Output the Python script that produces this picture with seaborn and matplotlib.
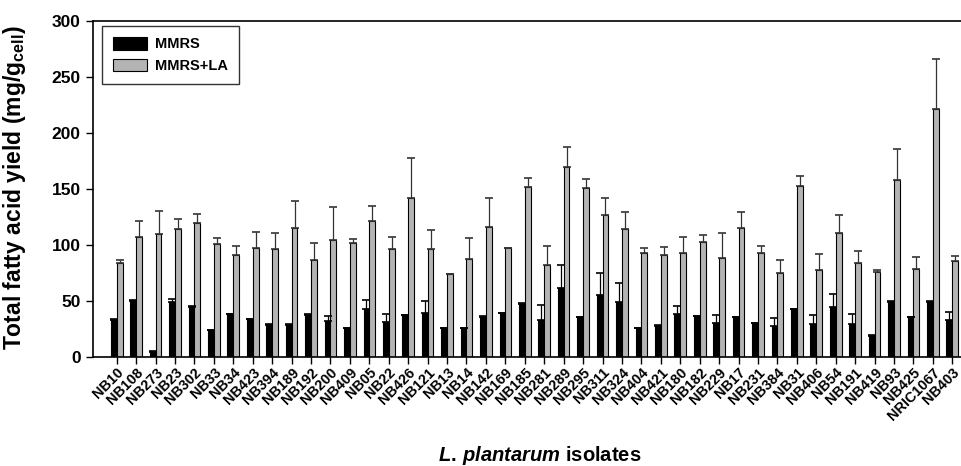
import numpy as np
import pandas as pd
import matplotlib
matplotlib.use("Agg")
import matplotlib.pyplot as plt
import seaborn as sns

isolates = ["NB10", "NB108", "NB273", "NB23", "NB302", "NB33", "NB34", "NB423", "NB394",
            "NB189", "NB192", "NB200", "NB409", "NB05", "NB22", "NB426", "NB121", "NB13",
            "NB14", "NB142", "NB169", "NB185", "NB281", "NB289", "NB295", "NB311", "NB324",
            "NB404", "NB421", "NB180", "NB182", "NB229", "NB17", "NB231", "NB384", "NB31",
            "NB406", "NB54", "NB191", "NB419", "NB93", "NB425", "NRIC1067", "NB403"]

mmrs = [32.6, 50.0, 4.4, 49.0, 45.0, 24.0, 38.0, 33.8, 28.5,
        28.5, 37.7, 31.7, 25.8, 43.0, 31.0, 37.4, 39.0, 25.5,
        25.5, 36.0, 39.0, 47.7, 32.6, 62.0, 35.6, 54.9, 49.5,
        25.8, 27.6, 38.6, 36.2, 30.5, 35.3, 30.0, 27.6, 42.7,
        29.4, 45.0, 29.4, 18.7, 49.5, 35.6, 49.5, 33.2]
mmrs_sd = [1.5, 0.5, 0.5, 2.6, 0.5, 0.5, 0.5, 0.5, 0.5,
           0.5, 0.5, 5.3, 0.5, 8.3, 7.0, 0.5, 11.4, 0.5,
           0.5, 0.5, 0.5, 0.5, 14.0, 20.4, 0.5, 19.8, 16.3,
           0.5, 0.5, 6.8, 0.5, 7.2, 0.5, 0.5, 7.4, 0.5,
           8.0, 11.3, 9.2, 0.5, 0.5, 0.5, 0.5, 6.8]

mmrs_la = [84.0, 106.8, 110.0, 114.0, 120.0, 100.5, 90.7, 97.0, 96.7,
           115.0, 86.6, 104.0, 101.7, 121.0, 96.7, 142.0, 96.4, 74.0,
           87.5, 115.7, 97.6, 151.8, 81.9, 170.0, 151.0, 127.0, 114.0,
           92.8, 91.3, 93.0, 102.3, 88.0, 115.0, 92.5, 74.7, 152.7,
           77.7, 111.0, 83.6, 75.6, 158.4, 78.6, 221.5, 85.7]
mmrs_la_sd = [2.6, 14.2, 20.0, 9.0, 8.0, 5.5, 8.3, 15.0, 14.3,
              24.0, 14.8, 30.0, 3.3, 14.0, 10.3, 36.0, 17.2, 0.5,
              19.0, 25.8, 0.0, 7.7, 16.9, 17.7, 8.0, 14.5, 15.6,
              4.2, 6.7, 13.8, 6.5, 22.6, 14.6, 6.5, 12.2, 8.6,
              13.9, 16.0, 11.0, 2.1, 26.9, 10.7, 44.2, 4.7]

conditions = ["MMRS", "MMRS+LA"]

plt.rcParams["font.family"] = ["Liberation Sans", "DejaVu Sans"]
plt.rcParams["font.weight"] = "bold"
plt.rcParams["mathtext.fontset"] = "custom"
plt.rcParams["mathtext.rm"] = "Liberation Sans:bold"
plt.rcParams["mathtext.bf"] = "Liberation Sans:bold"
plt.rcParams["mathtext.it"] = "Liberation Sans:italic:bold"

df = pd.DataFrame({
    "isolate": isolates * 2,
    "condition": [conditions[0]] * len(isolates) + [conditions[1]] * len(isolates),
    "yield": mmrs + mmrs_la,
})

fig = plt.figure(figsize=(9.62, 4.66), dpi=100)
ax = fig.add_axes([0.0967, 0.234, 0.9033, 0.721])

sns.barplot(data=df, x="isolate", y="yield", hue="condition", order=isolates,
            hue_order=conditions, palette={"MMRS": "black", "MMRS+LA": "#b4b4b4"},
            width=0.6, gap=0, edgecolor="black", linewidth=0.8, errorbar=None,
            ax=ax)

# one-sided (upward) standard deviations on top of each bar
err_colors = ["black", "#333333"]
for cont, sd, ec in zip(ax.containers, [mmrs_sd, mmrs_la_sd], err_colors):
    xs = [p.get_x() + p.get_width() / 2 for p in cont.patches]
    hs = [p.get_height() for p in cont.patches]
    ax.errorbar(xs, hs, yerr=[np.zeros(len(sd)), sd], fmt="none", ecolor=ec,
                elinewidth=0.9, capsize=3, capthick=1.2, zorder=1)

ax.set_xlim(-1.22, 43.5)
ax.set_ylim(0, 300)
ax.set_yticks(np.arange(0, 301, 50))
ax.tick_params(axis="y", direction="out", length=5, width=1, labelsize=12.5, pad=4)
ax.tick_params(axis="x", direction="out", length=5, width=1, labelsize=10.4, pad=1)
for lab in ax.get_yticklabels():
    lab.set_fontweight("bold")
for lab in ax.get_xticklabels():
    lab.set_rotation(45)
    lab.set_ha("right")
    lab.set_rotation_mode("anchor")
    lab.set_fontweight("bold")

for side in ["left", "bottom", "top"]:
    ax.spines[side].set_linewidth(1.2)
    ax.spines[side].set_color("black")
ax.spines["right"].set_visible(False)

ax.set_ylabel(r"Total fatty acid yield (mg/g$_{\mathbf{cell}}$)", fontsize=16.5,
              fontweight="bold")
ax.yaxis.set_label_coords(-0.075, 0.505)
ax.set_xlabel(r"$\mathit{L.\,plantarum}$ isolates", fontsize=14.5,
              fontweight="bold", va="baseline")
ax.xaxis.set_label_coords(0.514, -0.3095)

leg = ax.legend(loc="upper left", bbox_to_anchor=(0.0104, 0.985), borderaxespad=0,
                frameon=True, fancybox=False, edgecolor="black", fontsize=10.5,
                handlelength=2.3, handleheight=0.95, borderpad=0.75,
                labelspacing=0.5, handletextpad=0.6)
leg.get_frame().set_linewidth(1.0)
for t in leg.get_texts():
    t.set_fontweight("bold")

fig.savefig("out.png", dpi=100)
